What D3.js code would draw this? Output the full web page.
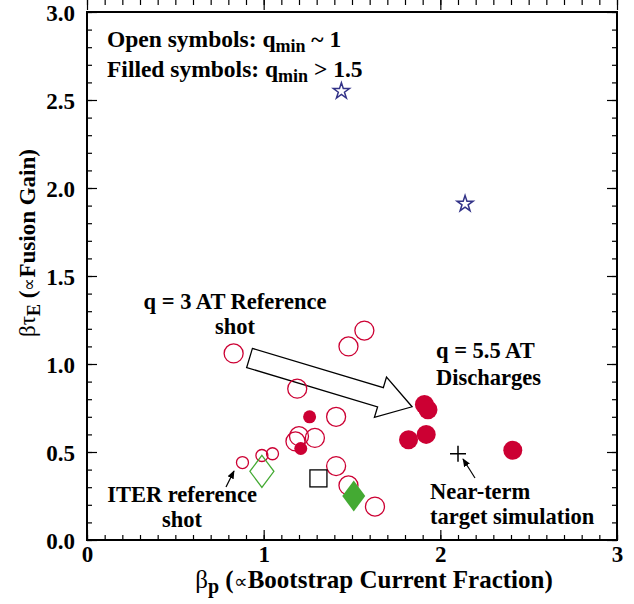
<!DOCTYPE html>
<html>
<head>
<meta charset="utf-8">
<script src="https://cdn.jsdelivr.net/npm/d3@7"></script>
<style>
  body { margin: 0; background: #fff; }
  text { font-family: "Liberation Serif", "Times New Roman", serif; font-weight: bold; fill: #000; }
</style>
</head>
<body>
<div id="chart"></div>
<script>
var width = 634, height = 604;
var margin = {top: 12, right: 17, bottom: 64, left: 87};

// open symbols, q_min ~ 1
var openBigX = [0.83, 1.57, 1.48, 1.19, 1.41, 1.20, 1.18, 1.29, 1.41, 1.48, 1.63];
var openBigY = [1.06, 1.19, 1.10, 0.86, 0.70, 0.59, 0.56, 0.58, 0.42, 0.31, 0.19];
var openSmallX = [0.88, 0.99, 1.05];
var openSmallY = [0.44, 0.48, 0.49];
// filled symbols, q_min > 1.5
var filledBigX = [1.91, 1.93, 1.82, 1.92, 2.41];
var filledBigY = [0.77, 0.74, 0.57, 0.60, 0.51];
var filledSmallX = [1.26, 1.21];
var filledSmallY = [0.70, 0.52];
var starX = [1.44, 2.14];
var starY = [2.55, 1.91];
var openDiamond = [0.99, 0.39];
var filledDiamond = [1.51, 0.25];
var openSquare = [1.31, 0.35];
var nearTerm = [2.10, 0.49];

var xTicks = [0, 1, 2, 3];
var yTicks = [0, 0.5, 1, 1.5, 2, 2.5, 3];

var red = "#cc0033", green = "#44aa33", navy = "#333388";

var svg = d3.select("#chart").append("svg")
    .attr("width", width)
    .attr("height", height);

var x = d3.scaleLinear().domain([0, 3]).range([margin.left, width - margin.right]);
var y = d3.scaleLinear().domain([0, 3]).range([height - margin.bottom, margin.top]);

function zip(a, b) { return a.map((v, i) => [v, b[i]]); }

// axes: ticks pointing inward on all four sides
function axes(maker, scale, vals, size, fmt, tr, pad) {
  var g = svg.append("g")
             .attr("transform", tr)
             .call(maker(scale).tickValues(vals).tickSize(size).tickPadding(pad || 6).tickFormat(fmt));
  g.select(".domain").remove();
  g.selectAll("line").attr("stroke", "#000").attr("stroke-width", 1.2);
  return g;
}
var minorVals = d3.range(0, 31).map(d => d / 10);
var bottom = "translate(0," + y(0) + ")", top = "translate(0," + y(3) + ")";
var left = "translate(" + x(0) + ",0)", right = "translate(" + x(3) + ",0)";

axes(d3.axisBottom, x, minorVals, -5, "", bottom);
axes(d3.axisTop, x, minorVals, -5, "", top);
axes(d3.axisLeft, y, minorVals, -5, "", left);
axes(d3.axisRight, y, minorVals, -5, "", right);
axes(d3.axisTop, x, xTicks, -10, "", top);
axes(d3.axisRight, y, yTicks, -10, "", right);

var xa = axes(d3.axisBottom, x, xTicks, -10, d3.format("d"), bottom, 5);
xa.selectAll("text").attr("font-size", 23).attr("dy", "0.74em");
var ya = axes(d3.axisLeft, y, yTicks, -10, d3.format(".1f"), left, 12);
ya.selectAll("text").attr("font-size", 23).attr("dy", "0.35em");
svg.selectAll(".tick text").style("font-family", "Liberation Serif").style("font-weight", "bold");

svg.append("rect")
   .attr("x", x(0)).attr("y", y(3))
   .attr("width", x(3) - x(0)).attr("height", y(0) - y(3))
   .attr("fill", "none").attr("stroke", "#000").attr("stroke-width", 2);

// axis titles
var xl = svg.append("text")
            .attr("x", 374).attr("y", 588)
            .attr("text-anchor", "middle").attr("font-size", 25);
xl.append("tspan").attr("font-weight", "normal").text("β");
xl.append("tspan").attr("dy", 5).attr("font-size", 20).text("p");
xl.append("tspan").attr("dy", -5).text(" (");
xl.append("tspan").attr("font-weight", "normal").attr("font-size", 19).text("∝");
xl.append("tspan").text("Bootstrap Current Fraction)");

var yl = svg.append("text")
            .attr("transform", "translate(35,243) rotate(-90)")
            .attr("text-anchor", "middle").attr("font-size", 23);
yl.append("tspan").attr("font-weight", "normal").text("βτ");
yl.append("tspan").attr("dy", 5).attr("font-size", 18).text("E");
yl.append("tspan").attr("dy", -5).text(" (");
yl.append("tspan").attr("font-weight", "normal").attr("font-size", 18).text("∝");
yl.append("tspan").text("Fusion Gain)");

// legend text
function qline(yy, pre, post) {
  var t = svg.append("text").attr("x", 107).attr("y", yy).attr("font-size", 23.5);
  t.append("tspan").text(pre + "q");
  t.append("tspan").attr("dy", 5).attr("font-size", 18).text("min");
  t.append("tspan").attr("dy", -5).text(post);
}
qline(47, "Open symbols: ", " ~ 1");
qline(77, "Filled symbols: ", " > 1.5");

// big outlined arrow
var tail = [x(0.92), y(1.034)], tip = [x(1.84), y(0.757)];
var dx = tip[0] - tail[0], dy = tip[1] - tail[1], len = Math.hypot(dx, dy);
var ux = dx / len, uy = dy / len, nx = -uy, ny = ux;
var sw = 10, hw = 21, hl = 33;
function pt(a, b) { return [tail[0] + ux * a + nx * b, tail[1] + uy * a + ny * b]; }
var arrowPts = [pt(0, -sw), pt(len - hl, -sw), pt(len - hl, -hw), pt(len, 0),
                pt(len - hl, hw), pt(len - hl, sw), pt(0, sw)];
svg.append("path")
   .attr("d", d3.line()(arrowPts) + "Z")
   .attr("fill", "#fff").attr("stroke", "#000").attr("stroke-width", 1.3);

// data marks
svg.selectAll("circle.ob").data(zip(openBigX, openBigY)).enter().append("circle")
   .attr("cx", d => x(d[0])).attr("cy", d => y(d[1])).attr("r", 9.5)
   .attr("fill", "none").attr("stroke", red).attr("stroke-width", 1.3);
svg.selectAll("circle.os").data(zip(openSmallX, openSmallY)).enter().append("circle")
   .attr("cx", d => x(d[0])).attr("cy", d => y(d[1])).attr("r", 6)
   .attr("fill", "none").attr("stroke", red).attr("stroke-width", 1.3);
svg.selectAll("circle.fb").data(zip(filledBigX, filledBigY)).enter().append("circle")
   .attr("cx", d => x(d[0])).attr("cy", d => y(d[1])).attr("r", 9.5)
   .attr("fill", red);
svg.selectAll("circle.fs").data(zip(filledSmallX, filledSmallY)).enter().append("circle")
   .attr("cx", d => x(d[0])).attr("cy", d => y(d[1])).attr("r", 6.5)
   .attr("fill", red);

svg.selectAll("path.star").data(zip(starX, starY)).enter().append("path")
   .attr("transform", d => "translate(" + x(d[0]) + "," + y(d[1]) + ")")
   .attr("d", d3.symbol(d3.symbolStar, 80))
   .attr("fill", "none").attr("stroke", navy).attr("stroke-width", 1.5);

function diamond(w, h) { return "M0," + (-h) + "L" + w + ",0L0," + h + "L" + (-w) + ",0Z"; }
svg.append("path")
   .attr("transform", "translate(" + x(openDiamond[0]) + "," + y(openDiamond[1]) + ")")
   .attr("d", diamond(12, 16)).attr("fill", "none").attr("stroke", green).attr("stroke-width", 1.3);
svg.append("path")
   .attr("transform", "translate(" + x(filledDiamond[0]) + "," + y(filledDiamond[1]) + ")")
   .attr("d", diamond(11.5, 15.5)).attr("fill", green);
svg.append("rect")
   .attr("x", x(openSquare[0]) - 8.5).attr("y", y(openSquare[1]) - 8.5)
   .attr("width", 17).attr("height", 17)
   .attr("fill", "none").attr("stroke", "#000").attr("stroke-width", 1.3);
svg.append("path")
   .attr("transform", "translate(" + x(nearTerm[0]) + "," + y(nearTerm[1]) + ")")
   .attr("d", "M-8,0H8M0,-8V8").attr("stroke", "#000").attr("stroke-width", 1.5);

// small pointer arrows
svg.append("defs").append("marker")
   .attr("id", "head").attr("viewBox", "0 0 10 10").attr("refX", 9).attr("refY", 5)
   .attr("markerWidth", 7).attr("markerHeight", 7).attr("orient", "auto")
   .append("path").attr("d", "M0,1L10,5L0,9Z").attr("fill", "#000");
svg.append("line")
   .attr("x1", 226).attr("y1", 487).attr("x2", 234).attr("y2", 471)
   .attr("stroke", "#000").attr("stroke-width", 1.2).attr("marker-end", "url(#head)");
svg.append("line")
   .attr("x1", 475).attr("y1", 478).attr("x2", 463).attr("y2", 459)
   .attr("stroke", "#000").attr("stroke-width", 1.2).attr("marker-end", "url(#head)");

// annotations, one text per line
function note(xx, yy, anchor, lines, gap) {
  lines.forEach((s, i) => svg.append("text")
     .attr("x", xx).attr("y", yy + i * gap)
     .attr("text-anchor", anchor).attr("font-size", 22.5).text(s));
}
note(235, 309, "middle", ["q = 3 AT Reference", "shot"], 25);
note(436, 358, "start", ["q = 5.5 AT", "Discharges"], 27);
note(182, 502, "middle", ["ITER reference", "shot"], 25);
note(430, 499, "start", ["Near-term", "target simulation"], 25);
</script>
</body>
</html>
